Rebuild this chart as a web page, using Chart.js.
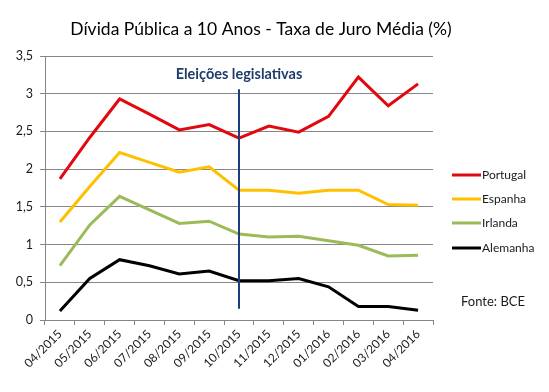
<!DOCTYPE html>
<html><head><meta charset="utf-8">
<script src="https://cdn.jsdelivr.net/npm/chart.js@4/dist/chart.umd.min.js"></script>
<style>html,body{margin:0;padding:0;background:#fff}#wrap{width:549px;height:392px}</style>
</head><body><div id="wrap"><canvas id="c" width="549" height="392"></canvas></div>
<script>
const categories = ["04/2015","05/2015","06/2015","07/2015","08/2015","09/2015","10/2015","11/2015","12/2015","01/2016","02/2016","03/2016","04/2016"];
const portugal = [1.87,2.42,2.93,2.73,2.52,2.59,2.41,2.57,2.49,2.70,3.22,2.84,3.13];
const espanha  = [1.30,1.77,2.22,2.09,1.96,2.03,1.72,1.72,1.68,1.72,1.72,1.53,1.52];
const irlanda  = [0.72,1.26,1.64,1.46,1.28,1.31,1.14,1.10,1.11,1.05,0.99,0.85,0.86];
const alemanha = [0.12,0.55,0.80,0.72,0.61,0.65,0.52,0.52,0.55,0.44,0.18,0.18,0.13];
const seriesNames = ["Portugal","Espanha","Irlanda","Alemanha"];
const yTicks = [0,0.5,1,1.5,2,2.5,3,3.5];
const eventIndex = 6;
const eventRange = [0.15,3.06];
const eventLabel = "Eleições legislativas";
const titleText = "Dívida Pública a 10 Anos - Taxa de Juro Média (%)";
const sourceText = "Fonte: BCE";

const colors = ["#E2080F","#FFC000","#9BBB59","#000000"];
const FONT = "Lato, 'Open Sans', sans-serif";

const extras = {
  id:'extras',
  afterDatasetsDraw(chart){
    const ctx = chart.ctx, xs = chart.scales.x, ys = chart.scales.y;
    const x = xs.getPixelForValue(eventIndex);
    ctx.save();
    // title
    ctx.fillStyle = "#000"; ctx.font = "17.5px " + FONT; ctx.textAlign = "center"; ctx.textBaseline = "middle";
    ctx.fillText(titleText, 261, 29);
    ctx.strokeStyle = "#1F3D7A"; ctx.lineWidth = 2;
    ctx.beginPath(); ctx.moveTo(x, ys.getPixelForValue(eventRange[1])); ctx.lineTo(x, ys.getPixelForValue(eventRange[0])); ctx.stroke();
    ctx.fillStyle = "#1F3D6A"; ctx.font = "bold 14.5px " + FONT;
    ctx.fillText(eventLabel, x, 74);
    // legend
    ctx.font = "12px " + FONT; ctx.textAlign = "left";
    const ly = [175,199,223,248];
    chart.data.datasets.forEach((d,i)=>{
      ctx.strokeStyle = d.borderColor; ctx.lineWidth = 3;
      ctx.beginPath(); ctx.moveTo(452, ly[i]); ctx.lineTo(481, ly[i]); ctx.stroke();
      ctx.fillStyle = "#1a1a1a"; ctx.fillText(d.label, 482, ly[i]);
    });
    ctx.font = "13px " + FONT;
    ctx.fillText(sourceText, 461, 302);
    ctx.restore();
  }
};

new Chart(document.getElementById('c'), {
  type:'line',
  data:{ labels: categories, datasets: [portugal,espanha,irlanda,alemanha].map((v,i)=>({
    label: seriesNames[i], data: v, borderColor: colors[i], backgroundColor: colors[i],
    borderWidth: 3, pointRadius: 0, tension: 0, fill:false }))},
  options:{
    responsive:false, animation:false,
    layout:{ padding:{ left:0, right:116, top:56, bottom:0 } },
    plugins:{ legend:{display:false}, tooltip:{enabled:false}, title:{display:false} },
    scales:{
      x:{ offset:true,
        afterFit(s){ s.height = 72; },
        grid:{ offset:true, drawOnChartArea:false, drawTicks:true, tickLength:5, color:"#868686" },
        border:{ color:"#868686", width:1 },
        ticks:{ color:"#1a1a1a", font:{family:FONT, size:12}, minRotation:45, maxRotation:45, padding:2 }
      },
      y:{ min:0, max:3.5,
        afterBuildTicks(s){ s.ticks = yTicks.map(v=>({value:v})); },
        afterFit(s){ s.width = 45; },
        grid:{ color:"#868686", tickLength:5 },
        border:{ color:"#868686", width:1 },
        ticks:{ color:"#1a1a1a", font:{family:FONT, size:12.5}, padding:7, callback:(v)=>String(v).replace('.',',') }
      }
    }
  },
  plugins:[extras]
});
</script></body></html>
